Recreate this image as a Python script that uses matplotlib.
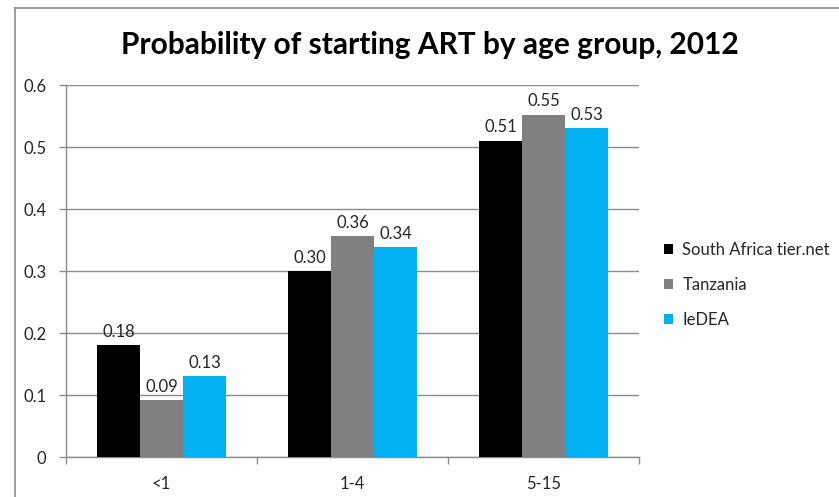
import matplotlib
matplotlib.use("Agg")
import matplotlib.pyplot as plt
from matplotlib.lines import Line2D
from matplotlib.patches import Patch
import numpy as np

plt.rcParams['font.family'] = ['Lato', 'DejaVu Sans']

# Chart data
age_groups = ["<1", "1-4", "5-15"]
series_names = ["South Africa tier.net", "Tanzania", "IeDEA"]
south_africa = [0.18, 0.30, 0.51]
tanzania = [0.092, 0.356, 0.552]
iedea = [0.13, 0.338, 0.53]
y_ticks = [0, 0.1, 0.2, 0.3, 0.4, 0.5, 0.6]
y_tick_labels = ["0", "0.1", "0.2", "0.3", "0.4", "0.5", "0.6"]

colors = ["#000000", "#808080", "#00B0F0"]
grid_color = "#8C8C8C"
text_color = "#262626"

W, H = 839, 497
fig = plt.figure(figsize=(W / 100, H / 100), dpi=100)
fig.patch.set_facecolor("white")

# plot area in pixel terms
x0, x1, ytop, ybot = 66, 639, 85, 457
ax = fig.add_axes([x0 / W, (H - ybot) / H, (x1 - x0) / W, (ybot - ytop) / H])

x = np.arange(len(age_groups))
bw = 0.225
all_series = [south_africa, tanzania, iedea]
for i, (vals, col) in enumerate(zip(all_series, colors)):
    pos = x + (i - 1) * bw
    ax.bar(pos, vals, width=bw, color=col, linewidth=0, zorder=3)
    for px, v in zip(pos, vals):
        ax.annotate(f"{v:.2f}", (px, v), xytext=(0, 6), textcoords="offset points",
                    ha="center", va="baseline", fontsize=12, color=text_color, zorder=4)

ax.set_xlim(-0.5, len(age_groups) - 0.5)
ax.set_ylim(0, 0.6)

ax.set_yticks(y_ticks)
ax.set_yticklabels(y_tick_labels)
ax.yaxis.grid(True, color=grid_color, linewidth=1.0, zorder=0)
ax.set_axisbelow(True)

# category boundaries as ticks, names at centres
ax.set_xticks(np.arange(-0.5, len(age_groups) + 0.5, 1.0))
ax.set_xticklabels([])
ax.set_xticks(x, minor=True)
ax.set_xticklabels(age_groups, minor=True)
ax.tick_params(axis="x", which="major", length=5, width=1, color=grid_color, direction="out")
ax.tick_params(axis="x", which="minor", length=0, pad=14, labelsize=12, labelcolor=text_color)
ax.tick_params(axis="y", length=5, width=1, color=grid_color, pad=9, labelsize=12,
               labelcolor=text_color)

for side in ["top", "right"]:
    ax.spines[side].set_visible(False)
for side in ["left", "bottom"]:
    ax.spines[side].set_color(grid_color)
    ax.spines[side].set_linewidth(1.0)

# Title
fig.text(430 / W, 1 - 45 / H, "Probability of starting ART by age group, 2012",
         ha="center", va="center", fontsize=21.5, fontweight="bold", color="#000000")

# Legend
handles = [Patch(facecolor=c, edgecolor="none") for c in colors]
fig.legend(handles, series_names, loc="upper left",
           bbox_to_anchor=(664 / W, 1 - 242 / H), frameon=False,
           fontsize=12, handlelength=0.55, handleheight=0.55, handletextpad=0.55,
           labelspacing=1.15, labelcolor=text_color, borderaxespad=0, borderpad=0)

# Chart area border (left and top edges visible)
fig.add_artist(Line2D([14.5 / W, 14.5 / W], [0, 1 - 8 / H], transform=fig.transFigure,
                      color="#8C8C8C", linewidth=1.2))
fig.add_artist(Line2D([14.5 / W, 1], [1 - 8 / H, 1 - 8 / H], transform=fig.transFigure,
                      color="#8C8C8C", linewidth=1.2))

fig.savefig("out.png", dpi=100)
